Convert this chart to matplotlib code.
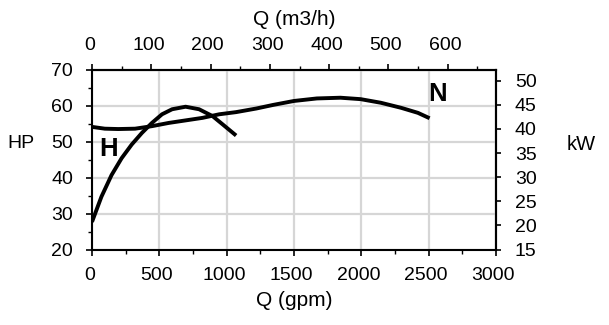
import matplotlib
matplotlib.use("Agg")
import matplotlib.pyplot as plt
from matplotlib.ticker import MultipleLocator
from matplotlib.transforms import ScaledTranslation

plt.rcParams['font.family'] = ['Liberation Sans', 'DejaVu Sans']

# Flow rate (gpm) and power (HP) for the H curve
h_gpm = [0, 70, 145, 220, 295, 370, 445, 520, 595, 695, 795, 895, 970, 1070]
h_hp = [27.8, 34.8, 40.8, 45.5, 49.3, 52.5, 55.3, 57.7, 59.1, 59.8, 59.1, 57.2, 54.9, 51.8]

# Flow rate (gpm) and power (HP) for the N curve
n_gpm = [0, 95, 195, 320, 445, 570, 695, 820, 945, 1070, 1220, 1345, 1500,
         1670, 1845, 1995, 2145, 2295, 2420, 2507]
n_hp = [54.2, 53.7, 53.6, 53.7, 54.4, 55.3, 56.0, 56.7, 57.7, 58.3, 59.3, 60.3, 61.4,
        62.1, 62.3, 61.9, 60.9, 59.5, 58.1, 56.6]

x_ticks = [0, 500, 1000, 1500, 2000, 2500, 3000]
y_ticks = [20, 30, 40, 50, 60, 70]
top_ticks = [0, 100, 200, 300, 400, 500, 600]
kw_ticks = [15, 20, 25, 30, 35, 40, 45, 50]

GPM_PER_M3H = 4.403
KW_PER_HP = 0.7457

fig = plt.figure(figsize=(6.09, 3.25), dpi=100)
ax = fig.add_axes([92 / 609, 75 / 325, 404 / 609, 180 / 325])

ax.plot(h_gpm, h_hp, color='black', lw=2.8, solid_capstyle='butt', zorder=3)
ax.plot(n_gpm, n_hp, color='black', lw=2.8, solid_capstyle='butt', zorder=3)

ax.set_xlim(0, 3000)
ax.set_ylim(20, 70)
ax.set_xticks(x_ticks)
ax.set_yticks(y_ticks)
ax.xaxis.set_minor_locator(MultipleLocator(250))
ax.yaxis.set_minor_locator(MultipleLocator(5))
ax.grid(True, which='major', color='#d6d6d6', lw=1.6, zorder=0)
ax.set_axisbelow(True)

for s in ax.spines.values():
    s.set_linewidth(1.5)

ax.tick_params(which='major', direction='out', length=4.5, width=1.2, labelsize=14)
ax.tick_params(which='minor', direction='out', length=3, width=1.0)
ax.tick_params(axis='y', which='major', pad=9)
ax.tick_params(axis='x', which='major', pad=8)

ax.set_xlabel('Q (gpm)', fontsize=15, labelpad=5)

# Secondary scales: m3/h on top, kW on the right
top = ax.secondary_xaxis('top', functions=(lambda g: g / GPM_PER_M3H,
                                           lambda m: m * GPM_PER_M3H))
top.set_xticks(top_ticks)
top.xaxis.set_minor_locator(MultipleLocator(50))
top.tick_params(which='major', direction='out', length=4.5, width=1.2, labelsize=14, pad=7)
top.tick_params(which='minor', direction='out', length=3, width=1.0)
top.spines['top'].set_linewidth(1.5)
top.set_xlabel('Q (m3/h)', fontsize=15, labelpad=9)

right = ax.secondary_yaxis('right', functions=(lambda h: h * KW_PER_HP,
                                               lambda k: k / KW_PER_HP))
right.set_yticks(kw_ticks)
right.tick_params(which='major', direction='out', length=3.5, width=1.2, labelsize=14, pad=10)
right.spines['right'].set_linewidth(1.5)

# nudge the horizontal tick labels slightly left of their ticks
shift = ScaledTranslation(-2 / 72, 0, fig.dpi_scale_trans)
for lab in list(ax.get_xticklabels()) + list(top.get_xticklabels()):
    lab.set_transform(lab.get_transform() + shift)

fig.text(21 / 609, 1 - 143.5 / 325, 'HP', fontsize=14, ha='center', va='center')
fig.text(581 / 609, 1 - 145 / 325, 'kW', fontsize=14.5, ha='center', va='center')

ax.text(126, 48.1, 'H', fontsize=18.5, fontweight='bold', ha='center', va='center')
ax.text(2565, 63.3, 'N', fontsize=18.5, fontweight='bold', ha='center', va='center')

fig.savefig('out.png', dpi=100)
